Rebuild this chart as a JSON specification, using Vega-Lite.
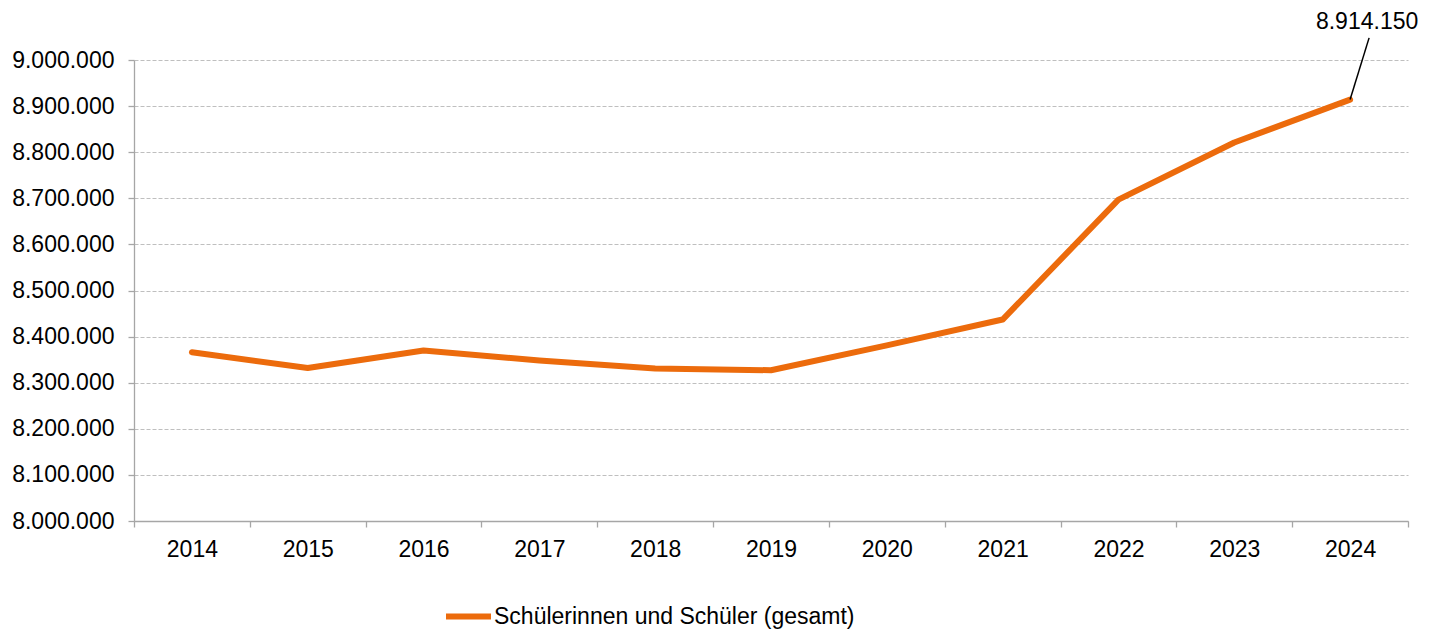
{
  "$schema": "https://vega.github.io/schema/vega-lite/v6.json",
  "autosize": "none",
  "width": 1274,
  "height": 461,
  "padding": {"left": 134, "top": 60, "right": 30, "bottom": 110},
  "background": "white",
  "config": {
    "locale": {"number": {"decimal": ",", "thousands": ".", "grouping": [3], "currency": ["", " €"]}},
    "font": "Liberation Sans",
    "view": {"stroke": null},
    "axis": {"labelFont": "Liberation Sans", "labelFontSize": 23, "labelColor": "#000000", "domainColor": "#a6a6a6", "tickColor": "#a6a6a6", "tickSize": 6, "domainWidth": 1.3, "tickWidth": 1.3, "labelOverlap": false}
  },
  "data": {
    "values": [
      {"year": "2014", "value": 8366000, "series": "Schülerinnen und Schüler (gesamt)"},
      {"year": "2015", "value": 8332000, "series": "Schülerinnen und Schüler (gesamt)"},
      {"year": "2016", "value": 8370000, "series": "Schülerinnen und Schüler (gesamt)"},
      {"year": "2017", "value": 8348000, "series": "Schülerinnen und Schüler (gesamt)"},
      {"year": "2018", "value": 8331000, "series": "Schülerinnen und Schüler (gesamt)"},
      {"year": "2019", "value": 8327000, "series": "Schülerinnen und Schüler (gesamt)"},
      {"year": "2020", "value": 8381000, "series": "Schülerinnen und Schüler (gesamt)"},
      {"year": "2021", "value": 8437000, "series": "Schülerinnen und Schüler (gesamt)"},
      {"year": "2022", "value": 8697000, "series": "Schülerinnen und Schüler (gesamt)"},
      {"year": "2023", "value": 8821000, "series": "Schülerinnen und Schüler (gesamt)"},
      {"year": "2024", "value": 8914150, "series": "Schülerinnen und Schüler (gesamt)"}
    ]
  },
  "encoding": {
    "x": {
      "field": "year", "type": "ordinal",
      "scale": {"type": "band", "paddingInner": 0, "paddingOuter": 0},
      "axis": {"title": null, "labelAngle": 0, "tickBand": "extent", "labelPadding": 11, "grid": false}
    }
  },
  "layer": [
    {
      "mark": {"type": "line", "strokeWidth": 6, "strokeCap": "round", "strokeJoin": "round"},
      "encoding": {
        "y": {
          "field": "value", "type": "quantitative",
          "scale": {"domain": [8000000, 9000000], "nice": false, "zero": false},
          "axis": {"title": null, "format": ",d", "values": [8000000, 8100000, 8200000, 8300000, 8400000, 8500000, 8600000, 8700000, 8800000, 8900000, 9000000], "labelPadding": 14, "grid": true, "gridColor": "#bfbfbf", "gridDash": [4, 2], "gridWidth": 1}
        },
        "color": {
          "field": "series", "type": "nominal",
          "scale": {"range": ["#ec6b0c"]},
          "legend": {"title": null, "orient": "none", "legendX": 309, "legendY": 531, "symbolType": "stroke", "symbolStrokeWidth": 6, "symbolSize": 2025, "labelFontSize": 23, "labelFont": "Liberation Sans", "labelColor": "#000000", "labelOffset": 0, "labelLimit": 0}
        }
      }
    },
    {
      "transform": [{"filter": "datum.year == '2024'"}],
      "mark": {"type": "rule", "color": "#000000", "strokeWidth": 1.5, "x2Offset": 19},
      "encoding": {
        "x2": {"field": "year"},
        "y": {"field": "value", "type": "quantitative"},
        "y2": {"datum": 9048000}
      }
    },
    {
      "transform": [{"filter": "datum.year == '2024'"}],
      "mark": {"type": "text", "fontSize": 23, "font": "Liberation Sans", "color": "#000000", "dx": 17, "baseline": "middle", "align": "center"},
      "encoding": {
        "y": {"datum": 9082000},
        "text": {"field": "value", "type": "quantitative", "format": ",d"}
      }
    }
  ]
}
